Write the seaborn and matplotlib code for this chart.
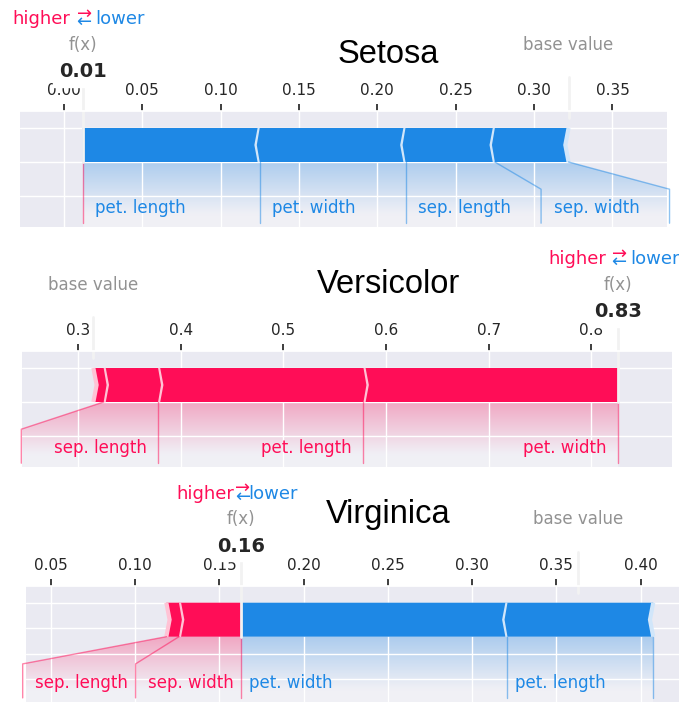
import numpy as np
import matplotlib
matplotlib.use('Agg')
import matplotlib.pyplot as plt
import matplotlib.colors as mcolors
from matplotlib import lines
from matplotlib.path import Path
from matplotlib.patches import PathPatch, Polygon
from matplotlib.ticker import MaxNLocator
import seaborn as sns

# shap values per class (iris), order of features below
features = ['sep. length', 'sep. width', 'pet. length', 'pet. width']
classes = ['Setosa', 'Versicolor', 'Virginica']
base_values = [0.322, 0.315, 0.363]
shap_setosa = [-0.057, -0.047, -0.113, -0.093]
shap_versicolor = [0.053, 0.010, 0.200, 0.248]
shap_virginica = [0.0075, 0.037, -0.0865, -0.158]
shap_all = [shap_setosa, shap_versicolor, shap_virginica]

# visible x range of each panel
xlims = [(-0.0279, 0.3848), (0.2455, 0.8784), (0.0352, 0.4228)]
# y gridlines of each panel
ygrid = [[-0.1, 0.0, 0.1], [-0.1, 0.0, 0.1], [-0.125, -0.05, 0.025, 0.1]]

sns.set_theme(style='darkgrid')

W, H = 679, 702
fig = plt.figure(figsize=(W / 100, H / 100), dpi=100)
renderer = fig.canvas.get_renderer()

# layout in pixels: left, right, y of bar bottom, text gap, label box pad
panel_left = [20, 22, 26]
panel_right = [667, 672, 679]
panel_zero = [162, 402, 636.7]
gap_px = [12.6, 11.7, 7.2]
pad_px = [17.5, 20.5, 5.6]
title_base = [63.3, 293.3, 523.3]
YPX = 340.0
YLIM = (-0.192, 0.15)

POS = ['#FF0D57', '#FFC3D5']
NEG = ['#1E88E5', '#D1E6FA']


def to_data(ax, xpix):
    return ax.transData.inverted().transform((xpix, 0))[0]


def draw_bars(ax, out, feats, kind, sep_w, bar_h=0.1):
    pre = out
    for i, (name, v) in enumerate(feats):
        if kind == 'positive':
            left, right = pre - abs(v), pre
            pre = left
            indent = sep_w
            spos = left
            cols = POS
        else:
            left, right = pre, pre + abs(v)
            pre = right
            indent = -sep_w
            spos = right
            cols = NEG
        if i == 0:
            if kind == 'positive':
                pts = [[left, 0], [right, 0], [right, bar_h], [left, bar_h],
                       [left + indent, bar_h / 2]]
            else:
                pts = [[right, 0], [left, 0], [left, bar_h], [right, bar_h],
                       [right + indent, bar_h / 2]]
        else:
            pts = [[left, 0], [right, 0], [right + indent * 0.9, bar_h / 2],
                   [right, bar_h], [left, bar_h], [left + indent * 0.9, bar_h / 2]]
        ax.add_patch(Polygon(pts, closed=True, fill=True, facecolor=cols[0], linewidth=0))
        sep = [[spos, 0], [spos + indent, bar_h / 2], [spos, bar_h]]
        ax.add_patch(Polygon(sep, closed=False, fill=False, edgecolor=cols[1], lw=3))


def draw_labels(ax, out, feats, kind, gap, pad, total, min_perc=0.022):
    if kind == 'positive':
        cols, ha, sign = POS, 'right', 1
        ln = lines.Line2D([out, out], [0, -0.18], lw=1., alpha=0.5, color=cols[0])
        ln.set_clip_on(False)
        ax.add_line(ln)
    else:
        cols, ha, sign = NEG, 'left', -1
    start = out
    pre = out
    box_end = out
    pos_val = out
    for name, v in feats:
        pos_val = pre - sign * abs(v)
        if abs(v) / total < min_perc:
            break
        t = ax.text(start - sign * gap, -0.15, name, fontsize=12, color=cols[0],
                    ha=ha, va='baseline')
        ext = t.get_window_extent(renderer)
        if kind == 'positive':
            be = to_data(ax, ext.x0) - pad
        else:
            be = to_data(ax, ext.x1) + pad
        if sign * be > sign * pos_val:
            ln = lines.Line2D([pos_val, pos_val], [0, -0.18], lw=1., alpha=0.5, color=cols[0])
            start = pos_val
            box_end = pos_val
        else:
            box_end = be - sign * gap
            ln = lines.Line2D([pos_val, box_end, box_end], [0, -0.08, -0.18],
                              lw=1., alpha=0.5, color=cols[0])
            start = box_end
        ln.set_clip_on(False)
        ax.add_line(ln)
        pre = pos_val
    if box_end == out:
        return
    path = Path([[out, 0], [pre, 0], [box_end, -0.08], [box_end, -0.2],
                 [out, -0.2], [out, 0]])
    patch = PathPatch(path, facecolor='none', edgecolor='none')
    ax.add_patch(patch)
    cm = mcolors.LinearSegmentedColormap.from_list(
        'cm', [mcolors.to_rgb(cols[0]), (1, 1, 1)])
    _, Z2 = np.meshgrid(np.linspace(0, 10), np.linspace(-10, 10))
    im = ax.imshow(Z2, interpolation='quadric', cmap=cm, vmax=0.01, alpha=0.3,
                   origin='lower', extent=[out, box_end, 0, -0.31], aspect='auto')
    im.set_clip_path(patch)


for k in range(3):
    top = panel_zero[k] - YLIM[1] * YPX
    bottom = panel_zero[k] - YLIM[0] * YPX
    ax = fig.add_axes([panel_left[k] / W, 1 - bottom / H,
                       (panel_right[k] - panel_left[k]) / W, (bottom - top) / H])
    ax.set_xlim(*xlims[k])
    ax.set_ylim(*YLIM)

    vals = np.array(shap_all[k])
    base = base_values[k]
    out = base + vals.sum()
    order = np.argsort(-np.abs(vals))
    pos = [(features[i], vals[i]) for i in order if vals[i] > 0]
    neg = [(features[i], vals[i]) for i in order if vals[i] < 0]
    total = np.abs(vals).sum()

    ppu = ax.bbox.width / (xlims[k][1] - xlims[k][0])
    gap = gap_px[k] / ppu
    pad = pad_px[k] / ppu
    sep_w = (xlims[k][1] - xlims[k][0]) / 200

    draw_bars(ax, out, neg, 'negative', sep_w)
    draw_bars(ax, out, pos, 'positive', sep_w)
    draw_labels(ax, out, neg, 'negative', gap, pad, total)
    draw_labels(ax, out, pos, 'positive', gap, pad, total)

    # base value marker
    ln = lines.Line2D([base, base], [0.13, 0.25], lw=2., color='#F2F2F2')
    ln.set_clip_on(False)
    ax.add_line(ln)
    t = ax.text(base, 0.33, 'base value', fontsize=12, alpha=0.5, ha='center')
    t.set_bbox(dict(facecolor='white', edgecolor='white'))

    # higher / lower
    ax.text(out - gap, 0.405, 'higher', fontsize=13, color=POS[0], ha='right')
    ax.text(out + gap, 0.405, 'lower', fontsize=13, color=NEG[0], ha='left')
    ax.text(out, 0.4, r'$\leftarrow$', fontsize=13, color=NEG[0], ha='center')
    ax.text(out, 0.425, r'$\rightarrow$', fontsize=13, color=POS[0], ha='center')

    # output value
    ln = lines.Line2D([out, out], [0, 0.24], lw=2., color='#F2F2F2')
    ln.set_clip_on(False)
    ax.add_line(ln)
    t = ax.text(out, 0.25, '{0:.2f}'.format(out), fontsize=14, fontweight='bold',
                ha='center', color='#262626')
    t.set_bbox(dict(facecolor='white', edgecolor='white'))
    t = ax.text(out, 0.33, 'f(x)', fontsize=12, alpha=0.5, ha='center')
    t.set_bbox(dict(facecolor='white', edgecolor='white'))

    ax.set_xlim(*xlims[k])
    ax.set_ylim(*YLIM)
    ax.set_yticks(ygrid[k])
    ax.xaxis.set_major_locator(MaxNLocator(nbins=12, steps=[1, 2, 2.5, 5, 10]))
    ax.tick_params(top=True, bottom=False, left=False, right=False, labelleft=False,
                   labeltop=True, labelbottom=False)
    ax.tick_params(axis='x', which='major', length=5, width=1.25, color='#262626',
                   pad=4.5, labelsize=11)
    for key, sp in ax.spines.items():
        if key != 'top':
            sp.set_visible(False)

    fig.text(388 / W, 1 - title_base[k] / H, classes[k], ha='center', va='baseline',
             fontsize=23.5, family='Liberation Sans', color='black')

fig.savefig('out.png', dpi=100)
plt.close()
